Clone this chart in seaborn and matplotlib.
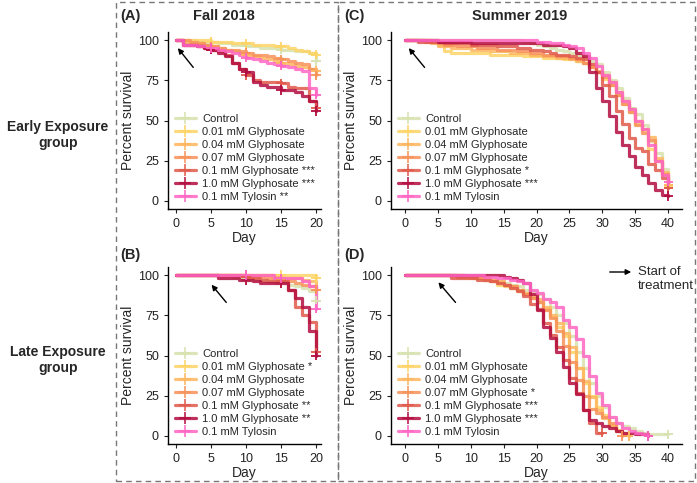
import numpy as np
import pandas as pd
import matplotlib
matplotlib.use("Agg")
import matplotlib.pyplot as plt
import seaborn as sns
from matplotlib.lines import Line2D
from matplotlib.patches import Rectangle

sns.set_style("white")
plt.rcParams['font.family'] = ['Liberation Sans', 'DejaVu Sans']

groups = ["Control", "0.01 mM Glyphosate", "0.04 mM Glyphosate", "0.07 mM Glyphosate",
          "0.1 mM Glyphosate", "1.0 mM Glyphosate", "0.1 mM Tylosin"]
colors = ["#d8e2b0", "#fdd466", "#fdb660", "#f7925a", "#e0594a", "#b30d3f", "#ff66c4"]

# significance suffixes per panel
sig_A = ["", "", "", "", " ***", " ***", " **"]
sig_B = ["", " *", "", "", " **", " **", ""]
sig_C = ["", "", "", "", " *", " ***", ""]
sig_D = ["", "", "", " *", " ***", " ***", ""]

# Panel A: Fall 2018, early exposure (survival % on days 0..20)
A_control = [100,100,100,99,99,99,98,98,97,97,96,96,95,95,95,94,94,93,93,92,87]
A_g001 = [100,100,100,100,100,99,99,99,98,98,98,97,97,97,96,96,95,94,93,92,91]
A_g004 = [100,99,98,98,97,96,95,94,93,92,91,90,89,88,87,86,85,84,83,82,81]
A_g007 = [100,100,99,98,97,96,95,94,94,93,92,91,91,90,89,88,87,86,85,82,78]
A_g01 = [100,97,97,96,95,94,93,91,86,82,78,75,74,74,74,73,71,70,70,62,58]
A_g10 = [100,97,97,96,95,94,92,90,86,82,80,74,72,71,71,69,69,68,65,62,56]
A_tyl = [100,97,97,96,96,95,94,93,92,91,89,88,87,86,85,84,83,82,81,70,66]

# Panel B: Fall 2018, late exposure (days 0..20)
B_control = [100,100,100,100,100,100,100,100,99,98,97,97,96,96,95,95,94,93,92,90,84]
B_g001 = [100]*20 + [98]
B_g004 = [100]*14 + [99,98,98,98,97,96,91]
B_g007 = [100]*10 + [99,99,99,98,98,97,96,95,94,93,91]
B_g01 = [100]*10 + [99,98,97,96,96,96,91,80,75,71,52]
B_g10 = [100,100,100,100,100,100,98,98,98,97,97,96,95,95,95,95,91,86,80,65,50]
B_tyl = [100]*14 + [98,98,98,98,96,93,79]

# Panel C: Summer 2019, early exposure (days 0..40)
C_control = [100]*18 + [99,98,97,96,95,94,93,92,91,89,87,85,80,75,70,64,58,54,47,37,30,20,10]
C_g001 = [100,100,100,100,100,97,93,92,92,92,92,92,92,91,91,91,91,91,90,90,90,89,89,89,
          88,88,87,86,83,80,76,72,66,60,55,48,44,32,25,16,9]
C_g004 = [100,100,100,100,98,96,96,95,95,95,94,94,94,93,93,93,92,92,92,91,91,90,90,89,
          89,88,87,86,84,81,78,74,68,62,57,50,45,40,27,18,10]
C_g007 = [100,100,100,99,99,98,97,97,96,96,96,95,95,95,94,94,94,93,93,92,92,91,91,90,
          90,89,88,86,83,80,77,72,66,60,55,47,42,38,25,17,8]
C_g01 = [100,100,99,99,99,99,98,98,98,98,97,97,97,97,96,96,96,95,95,94,94,93,92,91,
         91,90,89,88,85,80,72,65,56,48,39,33,31,23,19,14,8]
C_g10 = [100,100,100,100,100,99,99,99,99,99,98,98,98,98,98,98,98,98,98,98,98,97,97,97,
         96,95,92,90,80,70,62,53,43,35,28,21,16,11,7,4,3]
C_tyl = [100]*20 + [99,99,98,98,97,96,95,92,89,84,78,74,68,62,57,50,45,35,25,16,12]

# Panel D: Summer 2019, late exposure (days 0..end)
D_control = [100]*8 + [99,99,99,98,98,97,96,95,94,93,91,90,88,85,80,75,70,62,52,42,33,25,
                       18,12,8,6,5,3,2,1,1,1,1]
D_g001 = [100]*9 + [99,99,98,97,96,94,93,92,90,88,86,83,79,74,68,62,52,42,33,25,18,13,7,4,2,0]
D_g004 = [100]*9 + [99,99,98,98,97,96,94,93,91,89,87,85,80,75,70,64,55,42,34,24,16,11,6,3,1,0]
D_g007 = [100]*8 + [99,99,98,98,97,96,95,94,93,91,88,86,83,78,73,65,56,46,35,25,17,14,12,8,3,0]
D_g01 = [100]*7 + [98,98,98,98,97,97,96,95,94,92,90,87,82,79,70,63,55,47,36,27,16,8,2,2]
D_g10 = [100]*15 + [99,98,97,95,88,78,68,61,52,43,33,26,16,10,8,6,5,3,2,2,1,1,0]
D_tyl = [100]*12 + [99,99,98,98,97,96,95,91,89,85,83,80,72,68,60,50,37,27,19,12,8,5,3,2,1,0]

panels = {
    "A": ([A_control, A_g001, A_g004, A_g007, A_g01, A_g10, A_tyl], sig_A),
    "B": ([B_control, B_g001, B_g004, B_g007, B_g01, B_g10, B_tyl], sig_B),
    "C": ([C_control, C_g001, C_g004, C_g007, C_g01, C_g10, C_tyl], sig_C),
    "D": ([D_control, D_g001, D_g004, D_g007, D_g01, D_g10, D_tyl], sig_D),
}
censor_days = {"A": [5, 10, 15], "B": [10, 15], "C": [], "D": []}

# arrows: (tail_x, tail_y, tip_x, tip_y) in data units
arrows = {"A": (2.5, 83, 0.3, 95), "B": (7.2, 83, 5.1, 94),
          "C": (3.0, 83, 0.6, 95), "D": (7.7, 83, 5.1, 95.5)}

W, H = 697, 483
fig = plt.figure(figsize=(W/100, H/100), dpi=100)

def box(l, r, t, b):
    return [l/W, (H-b)/H, (r-l)/W, (b-t)/H]

pos = {"A": box(168, 321, 32, 209), "C": box(391, 682, 32, 209),
       "B": box(168, 321, 267, 444), "D": box(391, 682, 267, 444)}
xlims = {"A": (-1.1, 20.7), "B": (-1.1, 20.7), "C": (-2.1, 42.1), "D": (-2.1, 42.1)}
xticks = {"A": [0, 5, 10, 15, 20], "B": [0, 5, 10, 15, 20],
          "C": list(range(0, 41, 5)), "D": list(range(0, 41, 5))}

for key, (series, sigs) in panels.items():
    ax = fig.add_axes(pos[key])
    rows = []
    for g, s in zip(groups, series):
        for d, v in enumerate(s):
            rows.append((g, d, v))
    df = pd.DataFrame(rows, columns=["group", "day", "surv"])
    sns.lineplot(data=df, x="day", y="surv", hue="group", hue_order=groups,
                 palette=colors, drawstyle="steps-post", linewidth=2.3, alpha=0.85,
                 errorbar=None, legend=False, ax=ax)
    # censor marks
    crows = []
    for g, s in zip(groups, series):
        last = len(s) - 1
        for d in censor_days[key]:
            if d < last:
                crows.append((g, d, s[d]))
        crows.append((g, last, s[last]))
    cdf = pd.DataFrame(crows, columns=["group", "day", "surv"])
    sns.scatterplot(data=cdf, x="day", y="surv", hue="group", hue_order=groups,
                    palette=colors, marker="+", s=45, linewidth=1.3, legend=False, ax=ax,
                    zorder=5)
    ax.set_xlim(*xlims[key])
    ax.set_ylim(-5, 105)
    ax.set_xticks(xticks[key])
    ax.set_yticks([0, 25, 50, 75, 100])
    ax.tick_params(axis="both", labelsize=9, colors="#222222", length=3, width=0.8,
                   direction="out", left=True, bottom=True)
    for sp in ["top", "right"]:
        ax.spines[sp].set_visible(False)
    for sp in ["left", "bottom"]:
        ax.spines[sp].set_color("black")
        ax.spines[sp].set_linewidth(1.0)
    ax.set_xlabel("Day", fontsize=10, labelpad=1)
    ax.set_ylabel("Percent survival", fontsize=10, labelpad=2)
    # arrow
    tx, ty, hx, hy = arrows[key]
    ax.annotate("", xy=(hx, hy), xytext=(tx, ty),
                arrowprops=dict(arrowstyle="-|>", color="black", lw=1.0,
                                mutation_scale=8, shrinkA=0, shrinkB=0))
    # legend
    handles = [Line2D([0], [0], color=c, lw=2.3, alpha=0.85, marker="+",
                      markersize=8, markeredgewidth=1.3) for c in colors]
    labels = [g + s for g, s in zip(groups, sigs)]
    ax.legend(handles, labels, loc="lower left", bbox_to_anchor=(0.0, 0.003),
              frameon=False, fontsize=8, handlelength=1.9, handletextpad=0.6,
              labelspacing=0.27, borderaxespad=0.2)

# titles and panel letters
fig.text(224/W, 1-16/H, "Fall 2018", ha="center", va="center", fontsize=10.5, fontweight="bold")
fig.text(520/W, 1-16/H, "Summer 2019", ha="center", va="center", fontsize=10.5, fontweight="bold")
for lab, x, y in [("(A)", 120, 16), ("(C)", 344, 16), ("(B)", 120, 255), ("(D)", 344, 255)]:
    fig.text(x/W, 1-y/H, lab, ha="left", va="center", fontsize=10.5, fontweight="bold")

fig.text(58/W, 1-135/H, "Early Exposure\ngroup", ha="center", va="center",
         fontsize=10, fontweight="bold", linespacing=1.2)
fig.text(58/W, 1-360/H, "Late Exposure\ngroup", ha="center", va="center",
         fontsize=10, fontweight="bold", linespacing=1.2)

# start of treatment key
fig.patches.append(matplotlib.patches.FancyArrowPatch(
    (607/W, 1-272/H), (634/W, 1-272/H), transform=fig.transFigure,
    arrowstyle="-|>", mutation_scale=8, color="black", lw=1.0))
fig.text(638/W, 1-279/H, "Start of\ntreatment", ha="left", va="center", fontsize=9.5,
         linespacing=1.15)

# dashed boxes
for l, r in [(116, 338), (338, 695)]:
    fig.patches.append(Rectangle((l/W, 2/H), (r-l)/W, (H-4)/H, transform=fig.transFigure,
                                 fill=False, linestyle=(0, (4, 3)), edgecolor="#777777",
                                 lw=1.0))

fig.savefig("out.png", dpi=100)
